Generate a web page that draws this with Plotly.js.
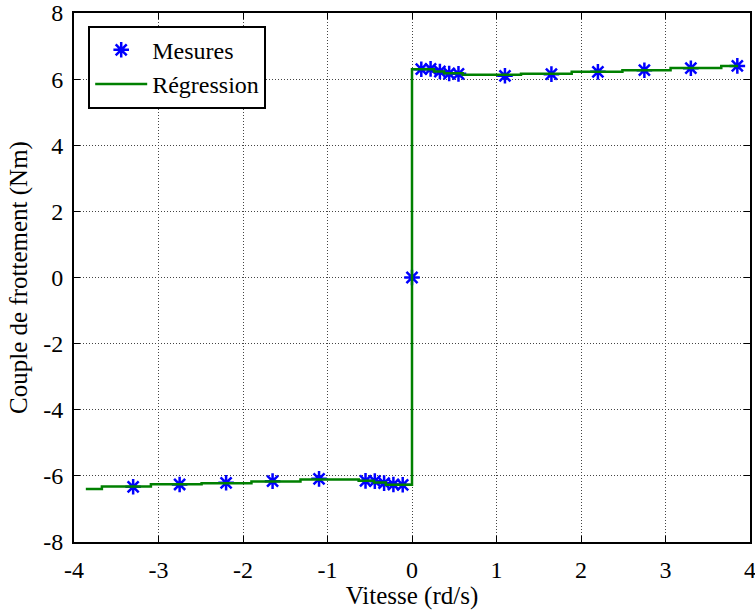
<!DOCTYPE html>
<html>
<head>
<meta charset="utf-8">
<script src="https://cdn.plot.ly/plotly-3.0.1.min.js"></script>
<style>html,body{margin:0;padding:0;background:#fff;}#chart{width:755px;height:610px;}</style>
</head>
<body>
<div id="chart"></div>
<script>
// Measured points (Mesures)
const mesX = [-3.3,-2.75,-2.2,-1.65,-1.1,-0.55,-0.44,-0.33,-0.22,-0.11,0,0.11,0.22,0.33,0.44,0.55,1.1,1.65,2.2,2.75,3.3,3.85];
const mesY = [-6.33,-6.26,-6.21,-6.16,-6.09,-6.15,-6.16,-6.22,-6.26,-6.27,0,6.30,6.31,6.23,6.17,6.16,6.10,6.15,6.22,6.27,6.33,6.40];
// Regression (stair-step)
const regX = [-3.86,-3.67,-3.09,-2.49,-1.90,-1.32,-0.63,-0.45,-0.31,0,0.26,0.38,0.60,1.29,1.89,2.49,3.06,3.66,3.86];
const regY = [-6.40,-6.32,-6.25,-6.22,-6.17,-6.11,-6.15,-6.20,-6.27,6.30,6.23,6.18,6.13,6.16,6.22,6.27,6.34,6.40,6.40];
const xTicks = [-4,-3,-2,-1,0,1,2,3,4];
const yTicks = [-8,-6,-4,-2,0,2,4,6,8];

const font = '"Liberation Serif", "Times New Roman", Times, serif';

const traces = [
  {x: mesX, y: mesY, type: 'scatter', mode: 'markers', name: 'Mesures',
   marker: {symbol: 'asterisk-open', size: 13, color: '#0000ff', line: {color: '#0000ff', width: 2.5}}},
  {x: regX, y: regY, type: 'scatter', mode: 'lines', name: 'Régression',
   line: {color: '#008000', width: 2.5, shape: 'hv'}}
];

const axisCommon = {
  showline: true, linecolor: '#000', linewidth: 2, mirror: 'allticks',
  showgrid: true, gridcolor: '#444', gridwidth: 1, griddash: '1px,2px',
  zeroline: false, ticks: 'inside', ticklen: 6, tickcolor: '#000', tickwidth: 1,
  ticklabeloverflow: 'allow',
  tickfont: {family: font, size: 24, color: '#000'}
};

const layout = {
  width: 755, height: 610,
  margin: {l: 74, r: 5, t: 13, b: 68},
  paper_bgcolor: '#fff', plot_bgcolor: '#fff',
  showlegend: true,
  legend: {x: 0.021, y: 0.976, xanchor: 'left', yanchor: 'top',
           bgcolor: '#fff', bordercolor: '#000', borderwidth: 2,
           itemwidth: 52, tracegroupgap: 0,
           font: {family: font, size: 24, color: '#000'}},
  xaxis: Object.assign({}, axisCommon, {
    range: [-4, 4], tickvals: xTicks, ticktext: xTicks.map(String),
    ticklabelstandoff: 5,
    title: {text: 'Vitesse (rd/s)', font: {family: font, size: 25, color: '#000'}, standoff: 0}
  }),
  yaxis: Object.assign({}, axisCommon, {
    range: [-8, 8], tickvals: yTicks, ticktext: yTicks.map(String),
    ticklabelstandoff: 4,
    title: {text: 'Couple de frottement (Nm)', font: {family: font, size: 25, color: '#000'}, standoff: 8}
  })
};

Plotly.newPlot('chart', traces, layout, {displayModeBar: false, staticPlot: true});
</script>
</body>
</html>
